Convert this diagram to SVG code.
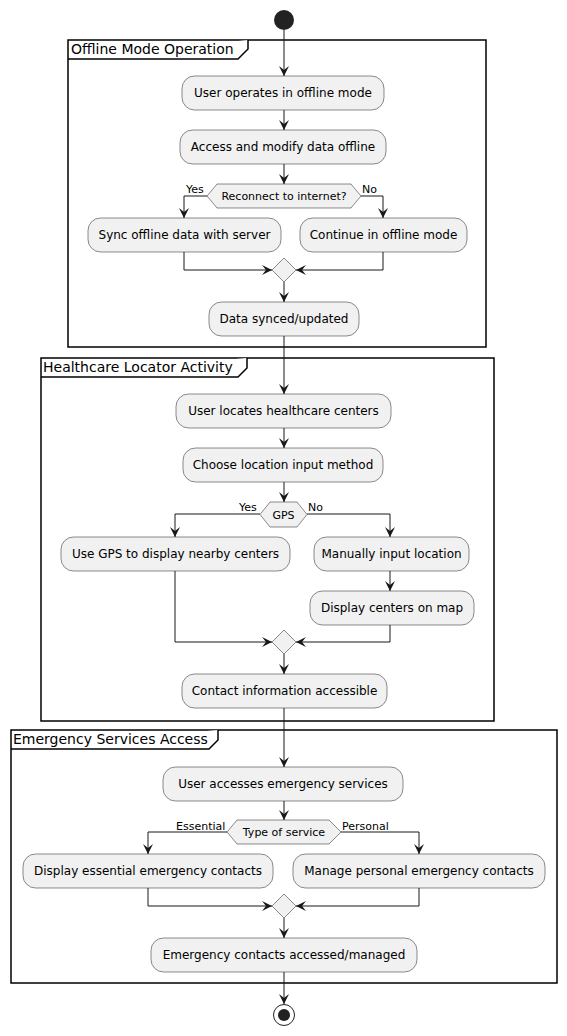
<svg xmlns="http://www.w3.org/2000/svg" width="567" height="1036" viewBox="0 0 567 1036">
<defs>
<marker id="ah" markerUnits="userSpaceOnUse" markerWidth="11" markerHeight="11" refX="10" refY="5" orient="auto" viewBox="0 0 11 10">
<path d="M0,0 L10,5 L0,10 L4,5 Z" fill="#181818"/>
</marker>
</defs>
<style>
.frame{fill:none;stroke:#000;stroke-width:1.5}
.tab{fill:#fff;stroke:#000;stroke-width:1.5}
.ftitle{font-family:"DejaVu Sans",sans-serif;font-size:14px;fill:#000}
.act{fill:#F1F1F1;stroke:#181818;stroke-width:0.5}
.t{font-family:"DejaVu Sans",sans-serif;font-size:12px;fill:#000;text-anchor:middle}
.ts{font-family:"DejaVu Sans",sans-serif;font-size:11px;fill:#000;text-anchor:middle}
.lbl{font-family:"DejaVu Sans",sans-serif;font-size:11px;fill:#000}
.c{fill:none;stroke:#181818;stroke-width:1;marker-end:url(#ah)}
</style>
<rect width="567" height="1036" fill="#fff"/>

<g id="frame-offline">
<rect class="frame" x="68" y="40" width="418" height="307"/>
<path class="tab" d="M68,59 L238,59 L248,49 L248,40"/>
<text class="ftitle" x="71" y="54">Offline Mode Operation</text>
</g>
<g id="frame-healthcare">
<rect class="frame" x="41" y="358" width="453" height="363"/>
<path class="tab" d="M41,377 L238,377 L247,368 L247,358"/>
<text class="ftitle" x="43" y="372">Healthcare Locator Activity</text>
</g>
<g id="frame-emergency">
<rect class="frame" x="11" y="730" width="546" height="253"/>
<path class="tab" d="M11,749 L209,749 L218,740 L218,730"/>
<text class="ftitle" x="13" y="744">Emergency Services Access</text>
</g>

<g id="connectors">
<path class="c" d="M284,30 L284,76"/>
<path class="c" d="M284,110 L284,130"/>
<path class="c" d="M284,164 L284,184"/>
<path class="c" d="M207,196 L184,196 L184,218"/>
<path class="c" d="M361,196 L383,196 L383,218"/>
<path class="c" d="M184,252 L184,270 L272,270"/>
<path class="c" d="M383,252 L383,270 L296,270"/>
<path class="c" d="M284,282 L284,302"/>
<path class="c" d="M284,336 L284,394"/>
<path class="c" d="M284,428 L284,448"/>
<path class="c" d="M284,482 L284,502"/>
<path class="c" d="M260,514 L175,514 L175,537"/>
<path class="c" d="M307,514 L390,514 L390,537"/>
<path class="c" d="M390,571 L390,591"/>
<path class="c" d="M175,571 L175,642 L272,642"/>
<path class="c" d="M390,625 L390,642 L296,642"/>
<path class="c" d="M284,654 L284,674"/>
<path class="c" d="M284,708 L284,767"/>
<path class="c" d="M284,801 L284,820"/>
<path class="c" d="M227,832 L148,832 L148,854"/>
<path class="c" d="M341,832 L419,832 L419,854"/>
<path class="c" d="M148,888 L148,906 L272,906"/>
<path class="c" d="M419,888 L419,906 L296,906"/>
<path class="c" d="M284,918 L284,938"/>
<path class="c" d="M284,972 L284,1004"/>
<text class="lbl" x="186" y="193">Yes</text>
<text class="lbl" x="362" y="193">No</text>
<text class="lbl" x="239" y="511">Yes</text>
<text class="lbl" x="308" y="511">No</text>
<text class="lbl" x="176" y="830">Essential</text>
<text class="lbl" x="342" y="830">Personal</text>
</g>

<g id="start"><circle cx="284" cy="20" r="10" fill="#222"/></g>

<g id="n1"><rect class="act" x="182" y="76" width="202" height="34" rx="12.5"/><text class="t" x="283" y="97">User operates in offline mode</text></g>
<g id="n2"><rect class="act" x="180" y="130" width="206" height="34" rx="12.5"/><text class="t" x="283" y="151">Access and modify data offline</text></g>
<g id="d1"><polygon class="act" points="207,196 217,184 351,184 361,196 351,208 217,208"/><text class="ts" x="284" y="200">Reconnect to internet?</text></g>
<g id="n3"><rect class="act" x="88" y="218" width="193" height="34" rx="12.5"/><text class="t" x="184.5" y="239">Sync offline data with server</text></g>
<g id="n4"><rect class="act" x="300" y="218" width="167" height="34" rx="12.5"/><text class="t" x="383.5" y="239">Continue in offline mode</text></g>
<g id="m1"><polygon class="act" points="284,258 296,270 284,282 272,270"/></g>
<g id="n5"><rect class="act" x="209" y="302" width="150" height="34" rx="12.5"/><text class="t" x="284" y="323">Data synced/updated</text></g>

<g id="n6"><rect class="act" x="176" y="394" width="215" height="34" rx="12.5"/><text class="t" x="283.5" y="415">User locates healthcare centers</text></g>
<g id="n7"><rect class="act" x="183" y="448" width="200" height="34" rx="12.5"/><text class="t" x="283" y="469">Choose location input method</text></g>
<g id="d2"><polygon class="act" points="260,514.5 270,502 297,502 307,514.5 297,527 270,527"/><text class="ts" x="283.5" y="518.5">GPS</text></g>
<g id="n8"><rect class="act" x="61" y="537" width="229" height="34" rx="12.5"/><text class="t" x="175.5" y="558">Use GPS to display nearby centers</text></g>
<g id="n9"><rect class="act" x="314" y="537" width="155" height="34" rx="12.5"/><text class="t" x="391.5" y="558">Manually input location</text></g>
<g id="n10"><rect class="act" x="310" y="591" width="164" height="34" rx="12.5"/><text class="t" x="392" y="612">Display centers on map</text></g>
<g id="m2"><polygon class="act" points="284,630 296,642 284,654 272,642"/></g>
<g id="n11"><rect class="act" x="182" y="674" width="205" height="34" rx="12.5"/><text class="t" x="284.5" y="695">Contact information accessible</text></g>

<g id="n12"><rect class="act" x="163" y="767" width="240" height="34" rx="12.5"/><text class="t" x="283" y="788">User accesses emergency services</text></g>
<g id="d3"><polygon class="act" points="227,832 237,820 329,820 341,832 329,844 237,844"/><text class="ts" x="284" y="836">Type of service</text></g>
<g id="n13"><rect class="act" x="23" y="854" width="250" height="34" rx="12.5"/><text class="t" x="148" y="875">Display essential emergency contacts</text></g>
<g id="n14"><rect class="act" x="293" y="854" width="252" height="34" rx="12.5"/><text class="t" x="419" y="875">Manage personal emergency contacts</text></g>
<g id="m3"><polygon class="act" points="284,894 296,906 284,918 272,906"/></g>
<g id="n15"><rect class="act" x="151" y="938" width="266" height="34" rx="12.5"/><text class="t" x="284" y="959">Emergency contacts accessed/managed</text></g>

<g id="end"><circle cx="284" cy="1015" r="10.5" fill="none" stroke="#222" stroke-width="1"/><circle cx="284" cy="1015" r="6" fill="#222"/></g>
</svg>
